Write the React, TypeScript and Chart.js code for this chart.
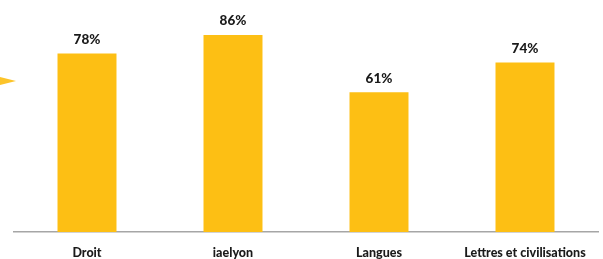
import React, { useEffect, useRef } from "react";
import { Chart, registerables } from "chart.js";

Chart.register(...registerables);

const categories = ["Droit", "iaelyon", "Langues", "Lettres et civilisations"];
const values = [78, 86, 61, 74];
const yMin = 0;
const yMax = 100;

const FONT = "Lato, 'Open Sans', sans-serif";
const BAR_COLOR = "#FDBF14";

const valueLabels = {
  id: "valueLabels",
  afterDatasetsDraw(chart: any) {
    const { ctx } = chart;
    const meta = chart.getDatasetMeta(0);
    ctx.save();
    ctx.font = `900 13.5px ${FONT}`;
    ctx.fillStyle = "#1a1a1a";
    ctx.textAlign = "center";
    ctx.textBaseline = "middle";
    meta.data.forEach((bar: any, i: number) => {
      ctx.fillText(`${values[i]}%`, bar.x, bar.y - 14);
    });
    ctx.restore();
  },
};

export default function App() {
  const ref = useRef<HTMLCanvasElement | null>(null);
  useEffect(() => {
    document.body.style.margin = "0";
    const chart = new Chart(ref.current!, {
      type: "bar",
      data: {
        labels: categories,
        datasets: [
          {
            data: values,
            backgroundColor: BAR_COLOR,
            borderWidth: 0,
            barPercentage: 0.404,
            categoryPercentage: 1,
          },
        ],
      },
      options: {
        animation: false,
        responsive: false,
        maintainAspectRatio: false,
        layout: { padding: { left: 14, right: 5, top: 3, bottom: 0 } },
        plugins: { legend: { display: false }, tooltip: { enabled: false } },
        scales: {
          x: {
            grid: { display: false, drawTicks: false },
            border: { display: true, color: "#A6A6A6", width: 1.5 },
            afterFit: (scale: any) => {
              scale.height = 27;
            },
            ticks: {
              padding: 13,
              color: "#1a1a1a",
              font: { family: FONT, weight: "900", size: 12.5 },
              maxRotation: 0,
              autoSkip: false,
            },
          },
          y: {
            display: false,
            min: yMin,
            max: yMax,
          },
        },
      },
      plugins: [valueLabels],
    });
    return () => chart.destroy();
  }, []);
  return (
    <div style={{ position: "relative", width: 603, height: 259, background: "#fff" }}>
      <canvas ref={ref} width={603} height={259} style={{ display: "block" }} />
      <div
        style={{
          position: "absolute",
          left: 0,
          top: 77,
          width: 0,
          height: 0,
          borderTop: "4.5px solid transparent",
          borderBottom: "4.5px solid transparent",
          borderLeft: `16px solid #FCC42A`,
        }}
      />
    </div>
  );
}
